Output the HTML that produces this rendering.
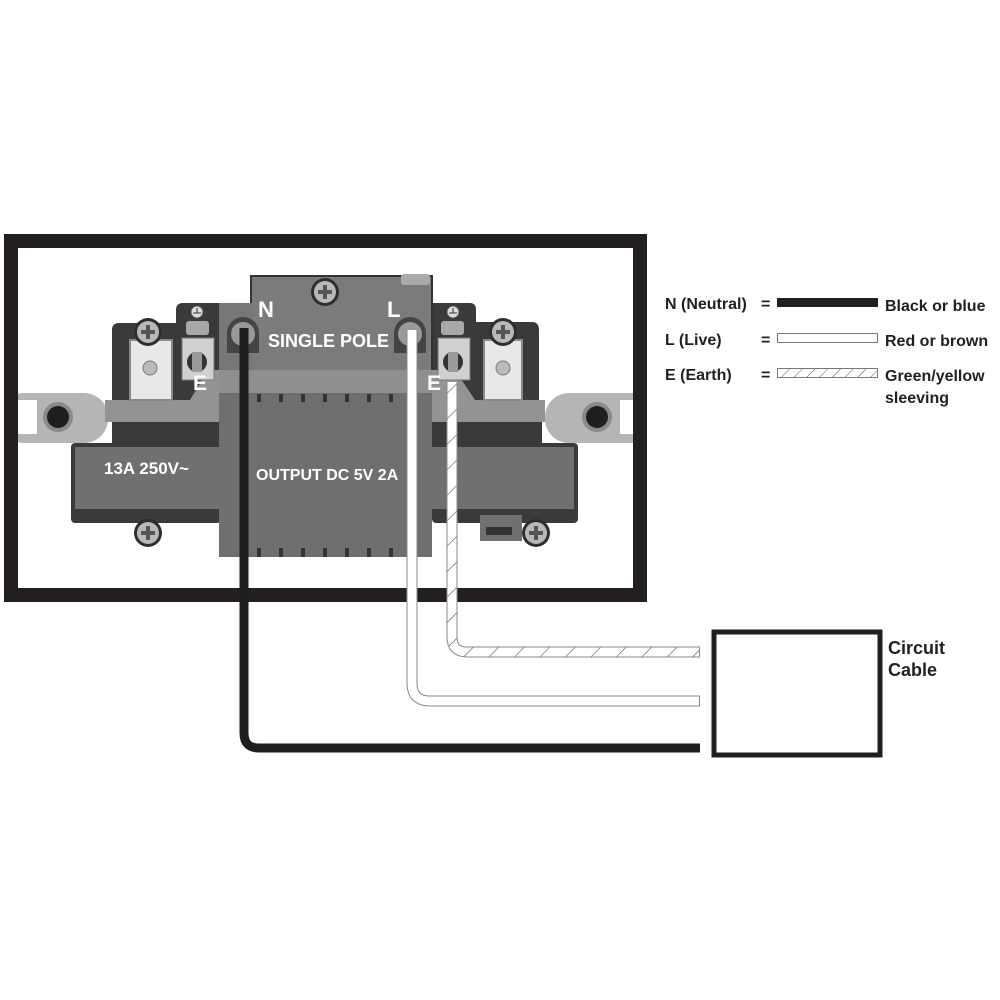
<!DOCTYPE html>
<html><head><meta charset="utf-8"><style>
html,body{margin:0;padding:0;background:#fff;}
svg{display:block;}
text{font-family:"Liberation Sans",sans-serif;font-weight:bold;}
</style></head><body>
<svg width="1000" height="1000" viewBox="0 0 1000 1000" xmlns="http://www.w3.org/2000/svg">
<defs>
<pattern id="hatch" width="18" height="18" patternUnits="userSpaceOnUse" patternTransform="rotate(45)">
<rect width="18" height="18" fill="#fff"/><line x1="0" y1="0" x2="0" y2="18" stroke="#555" stroke-width="1.2"/>
</pattern>
<pattern id="hatch2" width="9" height="9" patternUnits="userSpaceOnUse" patternTransform="rotate(45)">
<rect width="9" height="9" fill="#fff"/><line x1="0" y1="0" x2="0" y2="9" stroke="#555" stroke-width="1"/>
</pattern>
<g id="screw"><circle r="14" fill="#2e2e2e"/><circle r="11" fill="#b8b8b8"/><rect x="-7" y="-2" width="14" height="4" fill="#555"/><rect x="-2" y="-7" width="4" height="14" fill="#555"/></g>
</defs>

<!-- lugs -->
<rect x="0" y="393" width="108" height="50" rx="24" fill="#b5b5b5"/>
<rect x="18" y="400" width="19" height="34" fill="#fff"/>
<circle cx="58" cy="417" r="15" fill="#8a8a8a"/><circle cx="58" cy="417" r="11" fill="#1e1e1e"/>
<rect x="545" y="393" width="110" height="50" rx="24" fill="#b5b5b5"/>
<rect x="620" y="400" width="13" height="34" fill="#fff"/>
<circle cx="597" cy="417" r="15" fill="#8a8a8a"/><circle cx="597" cy="417" r="11" fill="#1e1e1e"/>

<!-- left housing -->
<path d="M112 330 Q112 323 119 323 L176 323 L176 310 Q176 303 183 303 L222 303 L222 447 L112 447 Z" fill="#3a3a3a"/>
<!-- right housing -->
<path d="M432 303 L470 303 Q476 303 476 310 L476 322 L532 322 Q539 322 539 330 L539 447 L432 447 Z" fill="#3a3a3a"/>

<!-- center top block -->
<rect x="251" y="276" width="181" height="120" fill="#7b7b7b" stroke="#333" stroke-width="2"/>
<rect x="219" y="303" width="33" height="70" fill="#777"/>

<!-- light band -->
<path d="M105 400 L190 400 L208 370 L455 370 L475 400 L545 400 L545 422 L105 422 Z" fill="#939393"/>
<rect x="112" y="422" width="430" height="25" fill="#3a3a3a"/>

<!-- big blocks -->
<rect x="71" y="443" width="150" height="80" rx="4" fill="#3a3a3a"/>
<rect x="75" y="447" width="146" height="62" fill="#707070"/>
<rect x="432" y="443" width="146" height="80" rx="4" fill="#3a3a3a"/>
<rect x="432" y="447" width="142" height="62" fill="#707070"/>
<rect x="480" y="515" width="42" height="26" fill="#707070"/>
<rect x="486" y="527" width="26" height="8" fill="#333"/>

<!-- center lower block -->
<rect x="219" y="393" width="213" height="164" fill="#6f6f6f"/>
<rect x="219" y="370" width="213" height="23" fill="#8f8f8f"/>
<g fill="#333">
<rect x="257" y="394" width="4" height="8"/><rect x="279" y="394" width="4" height="8"/><rect x="301" y="394" width="4" height="8"/><rect x="323" y="394" width="4" height="8"/><rect x="345" y="394" width="4" height="8"/><rect x="367" y="394" width="4" height="8"/><rect x="389" y="394" width="4" height="8"/>
<rect x="257" y="548" width="4" height="9"/><rect x="279" y="548" width="4" height="9"/><rect x="301" y="548" width="4" height="9"/><rect x="323" y="548" width="4" height="9"/><rect x="345" y="548" width="4" height="9"/><rect x="367" y="548" width="4" height="9"/><rect x="389" y="548" width="4" height="9"/>
</g>

<!-- white terminal plates -->
<rect x="130" y="340" width="42" height="60" fill="#e8e8e8" stroke="#888" stroke-width="2"/>
<circle cx="150" cy="368" r="7" fill="#bbb" stroke="#777"/>
<rect x="484" y="340" width="38" height="60" fill="#e8e8e8" stroke="#888" stroke-width="2"/>
<circle cx="503" cy="368" r="7" fill="#bbb" stroke="#777"/>

<!-- earth terminals -->
<g>
<rect x="182" y="338" width="32" height="42" fill="#d0d0d0" stroke="#777"/>
<rect x="186" y="321" width="23" height="14" rx="3" fill="#a8a8a8"/>
<circle cx="197" cy="362" r="10" fill="#333"/><rect x="192" y="352" width="10" height="20" fill="#999"/>
<circle cx="197" cy="312" r="6" fill="#ddd" stroke="#555"/>
<line x1="197" y1="308" x2="197" y2="313" stroke="#333"/><line x1="193" y1="313" x2="201" y2="313" stroke="#333"/>
</g>
<g>
<rect x="438" y="338" width="32" height="42" fill="#d0d0d0" stroke="#777"/>
<rect x="441" y="321" width="23" height="14" rx="3" fill="#a8a8a8"/>
<circle cx="453" cy="362" r="10" fill="#333"/><rect x="448" y="352" width="10" height="20" fill="#999"/>
<circle cx="453" cy="312" r="6" fill="#ddd" stroke="#555"/>
<line x1="453" y1="308" x2="453" y2="313" stroke="#333"/><line x1="449" y1="313" x2="457" y2="313" stroke="#333"/>
</g>

<!-- N/L terminals -->
<path d="M227 353 L227 333 A16 16 0 0 1 259 333 L259 353 Z" fill="#444"/>
<circle cx="243" cy="334" r="12" fill="#999"/>
<path d="M394 353 L394 333 A16 16 0 0 1 426 333 L426 353 Z" fill="#444"/>
<circle cx="410" cy="334" r="12" fill="#999"/>

<rect x="401" y="274" width="29" height="11" rx="3" fill="#aaa"/>

<use href="#screw" x="325" y="292"/>
<use href="#screw" x="148" y="332"/>
<use href="#screw" x="503" y="332"/>
<use href="#screw" x="148" y="533"/>
<use href="#screw" x="536" y="533"/>

<g fill="#fff">
<text x="258" y="317" font-size="22">N</text>
<text x="387" y="317" font-size="22">L</text>
<text x="268" y="347" font-size="18">SINGLE POLE</text>
<text x="193" y="390" font-size="21">E</text>
<text x="427" y="390" font-size="21">E</text>
<text x="104" y="474" font-size="17">13A 250V~</text>
<text x="256" y="480" font-size="16">OUTPUT DC 5V 2A</text>
</g>

<!-- frame (drawn over lugs) -->
<rect x="0" y="234" width="11" height="370" fill="#fff"/>
<rect x="640" y="234" width="20" height="370" fill="#fff"/>
<rect x="11" y="241" width="629" height="354" fill="none" stroke="#231f20" stroke-width="14"/>

<!-- wires -->
<path d="M244 328 L244 733 Q244 748 259 748 L700 748" fill="none" stroke="#1e1e1e" stroke-width="9"/>
<path d="M412 330 L412 683 Q412 701 430 701 L700 701" fill="none" stroke="#888" stroke-width="11"/>
<path d="M412 330 L412 683 Q412 701 430 701 L699 701" fill="none" stroke="#fff" stroke-width="9"/>
<path d="M452 382 L452 637 Q452 652 467 652 L700 652" fill="none" stroke="#888" stroke-width="11"/>
<path d="M452 382 L452 637 Q452 652 467 652 L699 652" fill="none" stroke="url(#hatch)" stroke-width="9"/>

<rect x="714" y="632" width="166" height="123" fill="#fff" stroke="#231f20" stroke-width="5"/>
<text x="888" y="654" font-size="18" fill="#231f20">Circuit</text>
<text x="888" y="676" font-size="18" fill="#231f20">Cable</text>

<g fill="#231f20" font-size="16">
<text x="665" y="309">N (Neutral)</text>
<text x="761" y="309">=</text>
<text x="665" y="345">L  (Live)</text>
<text x="761" y="345">=</text>
<text x="665" y="380">E  (Earth)</text>
<text x="761" y="380">=</text>
<text x="885" y="311">Black or blue</text>
<text x="885" y="346">Red or brown</text>
<text x="885" y="381">Green/yellow</text>
<text x="885" y="403">sleeving</text>
</g>
<rect x="777" y="298" width="101" height="9" fill="#231f20"/>
<rect x="777.5" y="333.5" width="100" height="9" fill="#fff" stroke="#777"/>
<rect x="777.5" y="368.5" width="100" height="9" fill="url(#hatch2)" stroke="#777"/>
</svg>
</body></html>
